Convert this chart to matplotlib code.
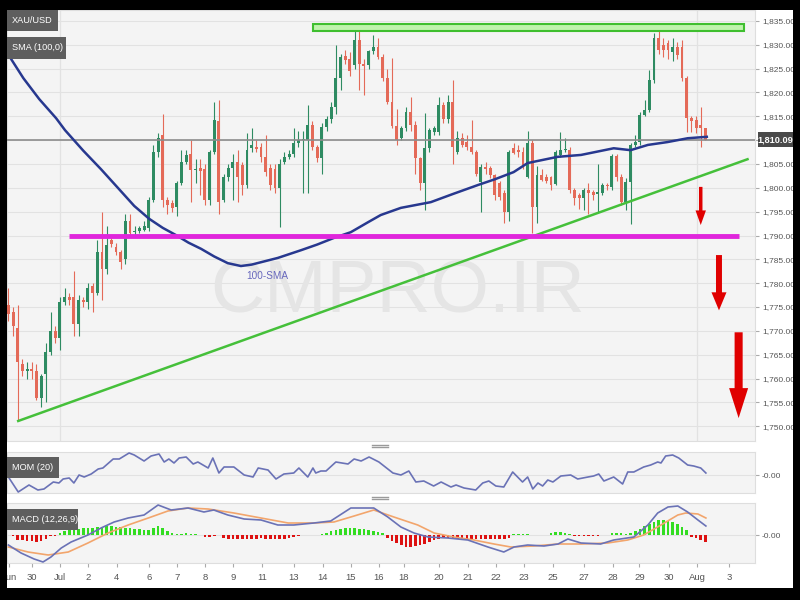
import numpy as np
import matplotlib
matplotlib.use('Agg')
import matplotlib.pyplot as plt
from matplotlib.patches import Rectangle, FancyArrowPatch, ArrowStyle
from matplotlib.lines import Line2D
from matplotlib import font_manager

# ---------------- data ----------------
opens = [1775.5, 1774, 1770.5, 1763, 1761.5, 1762, 1761.5, 1756, 1761, 1765.5,
         1770, 1768.5, 1776, 1777, 1777, 1771.5, 1776.5, 1776, 1779.5, 1778,
         1786.5, 1783, 1789, 1787.5, 1786.5, 1785, 1793, 1790.8, 1791, 1791.2,
         1791.5, 1797.5, 1807.5, 1811, 1797.5, 1796.8, 1796, 1801, 1805.5, 1807,
         1803.7, 1804.2, 1804, 1797.5, 1807.5, 1814, 1797.5, 1802.3, 1804.1, 1805.4,
         1804.8, 1800.6, 1808.4, 1808.5, 1808.5, 1806.4, 1804.1, 1804, 1800, 1805.5,
         1806.5, 1807.2, 1809.5, 1810, 1810, 1813.2, 1808.5, 1806.2, 1812.8, 1814.5,
         1817, 1823, 1827.6, 1827, 1825.8, 1831, 1826, 1825.8, 1828.6, 1829.6,
         1827.5, 1823, 1818, 1813, 1810.4, 1812.5, 1816, 1813.2, 1806.2, 1801,
         1808.3, 1811.7, 1811.7, 1817.4, 1814.5, 1818, 1807.6, 1810.4, 1809.7, 1808.6,
         1807.6, 1801.3, 1804.3, 1804.2, 1802.7, 1801, 1799, 1795, 1808.3, 1808,
         1807.6, 1802.3, 1809.3, 1796, 1802.7, 1802.3, 1802.3, 1800.9, 1806.9, 1808,
         1808, 1799.5, 1798.5, 1797.8, 1799.5, 1799.2, 1798.8, 1798.9, 1800.6, 1800.2,
         1806.6, 1802.3, 1797.1, 1801.3, 1809, 1809.7, 1815.3, 1816.3, 1822.6, 1831.4,
         1829.9, 1830.3, 1828.5, 1829.6, 1829.6, 1823, 1814.6, 1814.2, 1813.2, 1812.5]
closes = [1773.5, 1771, 1763.5, 1761.5, 1762, 1761.5, 1756, 1760.5, 1765.5, 1770,
          1768.5, 1776, 1777, 1776.5, 1771.5, 1776.5, 1776, 1779, 1778, 1786.5,
          1783, 1788, 1788.3, 1786.5, 1784.5, 1793, 1790.5, 1791, 1791.5, 1792,
          1797.5, 1807.5, 1810.5, 1797.5, 1796.5, 1795.8, 1801, 1805.5, 1806.8, 1803.7,
          1803.9, 1803.5, 1797.5, 1807.5, 1814.2, 1797, 1802.3, 1804.1, 1805.4, 1802.3,
          1800.6, 1807.9, 1809, 1808.2, 1806.4, 1803.3, 1800.5, 1800, 1805, 1806.5,
          1807.2, 1809.3, 1810, 1810.2, 1813.2, 1808.5, 1806.2, 1812.8, 1814.5, 1817,
          1823, 1827.5, 1826.8, 1824.5, 1831, 1826, 1825.5, 1828.6, 1829.6, 1827.5,
          1823, 1818, 1813, 1810, 1812.5, 1816, 1813.2, 1806.2, 1801, 1808.3,
          1812.1, 1812.5, 1817.4, 1814.5, 1818, 1808.5, 1810.4, 1809, 1808.6, 1807.6,
          1803, 1804.4, 1804, 1802.7, 1798.5, 1798.1, 1795, 1807.6, 1807.4, 1807.5,
          1804.8, 1809.4, 1796, 1802.7, 1801.7, 1801.5, 1800.6, 1807.6, 1808, 1808.2,
          1799.5, 1797.8, 1797.8, 1799.5, 1799, 1798.5, 1799, 1800.6, 1800.3, 1806.6,
          1802.3, 1797.1, 1801.3, 1809, 1809.7, 1815.3, 1816.3, 1822.6, 1831.4, 1828.9,
          1829, 1828.9, 1829.5, 1827.9, 1823, 1814.6, 1814, 1812.5, 1812.5, 1810.1]
highs = [1779, 1775, 1775.5, 1764, 1763.5, 1763.5, 1763, 1761, 1767.5, 1774,
         1771, 1777, 1779, 1778, 1782.5, 1777.5, 1777, 1780, 1780, 1789,
         1795, 1792, 1790, 1788.5, 1787, 1794.5, 1794.5, 1792, 1792, 1793,
         1798, 1809, 1811.5, 1815.5, 1798, 1797.5, 1801.5, 1808, 1808, 1810,
         1806, 1806, 1805, 1808, 1818, 1818.4, 1803, 1805, 1807, 1808,
         1805.5, 1811.5, 1812.6, 1810, 1809.5, 1811, 1805, 1805, 1806, 1807.5,
         1808, 1812.5, 1812, 1812, 1817.4, 1814, 1809, 1813.5, 1815, 1818,
         1830, 1828, 1829, 1828.5, 1834.2, 1833, 1827, 1829, 1832, 1831.5,
         1828, 1825, 1827.2, 1816.5, 1813, 1817, 1819, 1814, 1806.5, 1815.7,
         1812.5, 1813, 1819, 1818, 1819.5, 1822.6, 1812, 1811.5, 1811, 1814.2,
         1808, 1805, 1805.5, 1804.5, 1803, 1801.5, 1799.5, 1808, 1809.5, 1809,
         1808.5, 1812, 1810, 1804.5, 1804, 1803, 1802.5, 1808, 1811.8, 1810.5,
         1808.5, 1800, 1799, 1800, 1801, 1799.5, 1805, 1801, 1801, 1807,
         1807, 1803, 1802, 1809.5, 1811, 1816, 1818.5, 1824.7, 1832.4, 1832.8,
         1831.5, 1831, 1831.5, 1830.5, 1831, 1823.5, 1815, 1815, 1817, 1812.5]
lows = [1772, 1769, 1751.3, 1760.5, 1760, 1760, 1755.5, 1754, 1755, 1765,
        1767.5, 1766, 1775.5, 1775.5, 1769, 1769, 1775, 1774.5, 1774, 1777.5,
        1776.5, 1782, 1787.5, 1786, 1783, 1784, 1790, 1790, 1790.5, 1791,
        1791, 1797, 1806.5, 1796, 1794.5, 1795, 1794, 1800.5, 1805, 1797,
        1801, 1798.5, 1796.5, 1796.5, 1807, 1794.5, 1797, 1801.5, 1797.5, 1797,
        1798.5, 1800, 1807.5, 1807.5, 1805.5, 1802.5, 1799.5, 1799, 1791.8, 1805,
        1806, 1806.5, 1808.5, 1798.9, 1799, 1808, 1805.5, 1803, 1812, 1813.5,
        1815.5, 1820.5, 1826, 1823.5, 1825, 1820.5, 1819.5, 1825, 1828, 1827,
        1822.5, 1817.5, 1812.5, 1809, 1810, 1812, 1812, 1803, 1799.5, 1795.3,
        1807.5, 1811, 1811, 1813.5, 1813.5, 1805, 1807, 1808.5, 1808, 1807,
        1802.5, 1795, 1803, 1802, 1797.5, 1797.5, 1792.6, 1793, 1807, 1806.5,
        1804, 1802, 1790.5, 1792.6, 1801.5, 1801, 1799.5, 1800.5, 1806.5, 1807.5,
        1799, 1796.5, 1795.5, 1795.3, 1794.5, 1797.5, 1795, 1798.5, 1799.5, 1799.5,
        1801.5, 1796.5, 1795.3, 1792.5, 1808.5, 1809, 1815, 1816, 1822, 1828,
        1827.5, 1827, 1826.5, 1827, 1822.5, 1811.8, 1811.8, 1811.5, 1808.6, 1810]

sma_idx = [0, 3.2, 6.6, 10.2, 12.1, 16.0, 19.8, 23.4, 26.9, 30.1, 33.0, 35.8, 38.5, 41.2,
           44.0, 46.9, 49.7, 52.0, 54.0, 57.6, 62.5, 66.0, 69.6, 73.2, 76.9, 79.6, 83.9,
           90.3, 95.0, 100.4, 104.0, 108.0, 111.0, 117.4, 122.4, 129.4, 133.0, 136.7,
           140.9, 145.2, 149.3]
sma_val = [1827.9, 1823.0, 1818.6, 1814.6, 1812.1, 1807.8, 1803.9, 1800.0, 1796.2, 1793.5,
           1791.6, 1790.1, 1788.5, 1787.2, 1785.6, 1784.2, 1783.6, 1783.9, 1784.4, 1785.3,
           1786.9, 1788.1, 1789.5, 1790.7, 1792.8, 1794.3, 1795.8, 1797.0, 1798.7, 1800.6,
           1801.8, 1803.3, 1805.2, 1806.5, 1806.9, 1808.3, 1807.9, 1809.0, 1809.6, 1810.4,
           1810.7]

mom_idx = [0, 2.1, 4.4, 6.3, 7.6, 9.6, 10.8, 11.7, 13.0, 14.0, 15.1, 16.2, 17.7, 19.2, 20.2,
           22.4, 23.7, 25.8, 26.9, 29.0, 30.5, 32.2, 33.3, 34.3, 35.4, 36.5, 38.0, 39.5, 40.5,
           42.7, 43.7, 45.0, 46.1, 48.2, 50.4, 52.3, 53.4, 55.5, 57.2, 58.9, 61.0, 62.1, 64.0,
           65.1, 65.7, 66.8, 67.9, 70.0, 72.6, 73.9, 75.4, 77.1, 79.2, 82.2, 83.9, 85.6, 87.1,
           88.8, 90.9, 92.5, 94.6, 95.7, 97.4, 99.9, 101.4, 102.7, 104.2, 105.9, 107.8, 109.9,
           111.0, 112.1, 113.2, 114.2, 115.3, 116.4, 118.1, 120.2, 121.7, 123.9, 125.1, 126.2,
           127.3, 129.4, 131.3, 132.4, 133.7, 135.8, 137.3, 138.8, 139.5, 140.5, 142.0, 143.3,
           145.2, 146.5, 148.0, 149.1]
mom_val = [-2, -17, -10, -15, -14, -7, -8, -4, -3, -8, 0, -2, 1, 6, 7, 16, 16, 22, 20, 14,
           19, 21, 13, 16, 12, 17, 18, 11, 13, 7, 17, 2, 8, 8, 0, -2, 7, 5, -4, 1, 2, 7, -2, 7,
           2, 4, 4, 13, 11, 16, 14, 18, 13, 2, 0, 4, -7, -6, -11, -7, -12, -10, -13, -15, -8,
           -6, -11, -12, 3, -7, -2, -14, -8, -11, -5, -7, -1, 0, -4, -2, -1, 1, -6, -2, -9, 3,
           3, 8, 10, 13, 12, 19, 20, 17, 10, 9, 7, 2]

macd_idx = [0, 2.7, 5.5, 7.4, 9.1, 11.3, 13.4, 17.0, 19.8, 22.6, 25.6, 29.0, 32.0, 34.8,
            38.4, 41.8, 43.9, 46.9, 50.4, 54.0, 57.6, 61.0, 65.3, 68.9, 73.2, 78.1, 81.1,
            83.9, 86.7, 89.7, 93.9, 98.2, 102.5, 105.9, 108.1, 111.0, 114.5, 117.5, 119.6,
            122.4, 126.6, 129.4, 133.7, 136.7, 138.8, 141.0, 143.1, 145.2, 147.4, 149.1]
macd_val = [-10, -18, -24, -27, -22, -13, -7, 0, 7, 13, 17, 20, 30, 25, 27, 23, 25, 20, 16,
            15, 10, 10, 12, 14, 27, 27, 18, 8, 2, -2, -3, -5, -12, -17, -12, -10, -11, -9,
            -4, -8, -9, -5, -2, 10, 22, 28, 29, 23, 15, 9]
signal_idx = [0, 4.2, 8.5, 12.8, 17.0, 21.3, 25.6, 29.9, 34.1, 38.4, 42.7, 48.2, 54.0, 59.8,
              65.3, 69.6, 73.9, 78.1, 82.4, 87.5, 91.0, 95.2, 99.5, 103.8, 107.4, 112.3,
              117.5, 122.4, 128.1, 132.4, 135.8, 139.5, 143.1, 144.8, 147.4, 149.1]
signal_val = [-12, -17, -20, -17, -8, 2, 10, 17, 24, 27, 26, 22, 17, 12, 12, 13, 19, 25, 18,
              10, 2, -2, -5, -9, -12, -11, -9, -9, -8, -5, 0, 10, 20, 22, 21, 17]
hist_val = [0, -1, -5, -5, -6, -6, -7, -6, -4, -1, -0.5,
            2, 4, 5, 6, 6, 7, 7, 7, 8, 8, 9, 9, 8, 8, 7, 7, 6, 6, 5, 5, 7, 9, 7, 4, 2, 1, 1.5,
            2, 1.5, 1, 0.3, -1.5, -1.5, -1, -0.3,
            -3, -3.5, -3.5, -3.5, -4, -4, -3.5, -3.5, -3, -3.5, -4, -4, -4, -3.5, -3, -2,
            -0.5, 0.3, 0.5, -0.3, 0.3, 1, 2, 4, 5, 6, 7, 7, 7, 6, 6, 5, 4, 3, 2,
            -3, -6, -8, -10, -12, -12, -11, -10, -9, -7, -5, -3.5,
            -3, -3, -3.5, -3.5, -3.5, -3.5, -3.5, -3.5, -3.5, -3.5, -3.5, -3.5, -3.5, -3.5, -3,
            1, 1.5, 1.5, 1,
            0.3, 0.3, 0.3, 0.5,
            2, 3, 3.5, 2.5,
            1, -0.5, -1, -1, -1, -1, -0.5,
            0.3, 0.5, 2, 2, 2, 1,
            2, 4, 6, 9, 11, 13, 15, 15, 14, 13, 11, 8, 5,
            -2, -3, -5, -7]

tick_pos = [0.15, 5.06, 11.05, 17.03, 23.2, 30.06, 36.05, 42.03, 48.0, 54.2, 61.0, 67.2,
            73.2, 79.2, 84.5, 92.0, 98.2, 104.2, 110.2, 116.4, 123.0, 129.2, 134.9, 141.2,
            147.2, 154.0]
tick_labels = ['Jun', '30', 'Jul', '2', '4', '6', '7', '8', '9', '11', '13', '14', '15',
               '16', '18', '20', '21', '22', '23', '25', '27', '28', '29', '30', 'Aug', '3']
month_starts = [11.05, 147.2]

price_ticks = list(range(1750, 1840, 5))
last_price = 1810.09
zone_idx = (65.1, 157.2)
zone_price = (1832.8, 1834.3)
support_idx = (13.0, 156.1)
support_level = 1790
trend_idx = [2.1, 158.0]
trend_val = [1751.1, 1806.0]
arrow_idx = [148.0, 151.9, 156.1]
arrow_top = [1800.2, 1785.9, 1769.7]
arrow_bottom = [1792.2, 1774.3, 1751.7]
sma_label_pos = (55.3, 1781.5)

# ---------------- fonts ----------------
_names = {f.name for f in font_manager.fontManager.ttflist}
if 'Liberation Sans Narrow' in _names:
    FONT = 'Liberation Sans Narrow'
    FS_Y, FS_X, FS_BOX, FS_WM, FS_SMA = 7, 8, 7.5, 66, 8.5
else:
    FONT = 'Liberation Sans'
    FS_Y, FS_X, FS_BOX, FS_WM, FS_SMA = 6.0, 6.8, 6.6, 54, 7.2
plt.rcParams['font.family'] = [FONT, 'DejaVu Sans']

# ---------------- figure ----------------
W, H = 800, 600
fig = plt.figure(figsize=(8, 6), dpi=100)
fig.patch.set_facecolor('white')


def fx(px):
    return px / W


def fy(py):
    return 1 - py / H


L, R = 7, 755
ax = fig.add_axes([fx(L), fy(441), fx(R) - fx(L), fy(10) - fy(441)])
ax_mom = fig.add_axes([fx(L), fy(493), fx(R) - fx(L), fy(452) - fy(493)])
ax_macd = fig.add_axes([fx(L), fy(563), fx(R) - fx(L), fy(503) - fy(563)])

BG = '#f4f4f4'
GRID = '#e2e2e2'
XL = (-0.3, 159.6)
for a in (ax, ax_mom, ax_macd):
    a.set_facecolor(BG)
    a.set_xlim(*XL)
    a.set_axisbelow(True)
    for s in a.spines.values():
        s.set_color('#dedede')
        s.set_linewidth(0.8)
    a.yaxis.tick_right()
    a.tick_params(axis='y', length=3, color='#aaaaaa', pad=2, labelsize=FS_Y,
                  labelcolor='#555555')
    a.grid(axis='y', color=GRID, lw=0.8)

# ---- main price panel ----
ax.set_ylim(1746.9, 1837.3)
ax.set_yticks(price_ticks)
# the 1,810.00 label is hidden behind the last-price box in the reference
ax.set_yticklabels(['' if v == 1810 else f'{v:,.2f}' for v in price_ticks])
ax.set_xticks([])
for m in month_starts:
    ax.axvline(m, color=GRID, lw=0.9, zorder=0.5)

ax.text((398 - L) / (R - L), (441 - 292) / 431, 'CMPRO.IR', transform=ax.transAxes,
        ha='center', va='center', fontsize=FS_WM, color='#e5e5e5', zorder=0.6)

o = np.array(opens); c = np.array(closes); h = np.array(highs); lo = np.array(lows)
xi = np.arange(len(o))
up = c >= o
GREEN = '#2e8b62'
RED = '#e46a58'
cols = np.where(up, GREEN, RED)
ax.vlines(xi, lo, h, colors=cols, lw=0.8, zorder=3)
body_h = np.maximum(np.abs(c - o), 0.25)
ax.bar(xi, body_h, bottom=np.minimum(o, c), width=0.62, color=cols, zorder=3.5)

ax.axhline(last_price, color='#8c8c8c', lw=1.2, zorder=4)
ax.plot(sma_idx, sma_val, color='#27388f', lw=1.8, zorder=5)
ax.text(*sma_label_pos, '100-SMA', color='#6868bd', fontsize=FS_SMA, ha='center',
        va='center', zorder=5)
ax.plot(trend_idx, trend_val, color='#45c03a', lw=1.8, zorder=5)
ax.plot(support_idx, [support_level] * 2, color='#e026dc', lw=3.5,
        solid_capstyle='butt', zorder=5)
ax.add_patch(Rectangle((zone_idx[0], zone_price[0]), zone_idx[1] - zone_idx[0],
                       zone_price[1] - zone_price[0], fc='#bff3ad', ec='#3fbf2f',
                       lw=1.5, zorder=5))

arrow_styles = [(2.5, 7.5, 10.5), (4.3, 10.8, 13.0), (5.8, 13.7, 21.6)]
for xa, yt, yb, (tw, hw, hl) in zip(arrow_idx, arrow_top, arrow_bottom, arrow_styles):
    st = ArrowStyle.Simple(head_length=hl, head_width=hw, tail_width=tw)
    ax.add_patch(FancyArrowPatch((xa, yt), (xa, yb), arrowstyle=st, mutation_scale=1,
                                 shrinkA=0, shrinkB=0, color='#e00000', lw=0, zorder=6))

# ---- MOM panel ----
ax_mom.set_ylim(-18, 23)
ax_mom.set_yticks([0])
ax_mom.set_yticklabels(['-0.00'])
ax_mom.set_xticks([])
ax_mom.plot(mom_idx, mom_val, color='#6a72b6', lw=1.2, zorder=3)

# ---- MACD panel ----
ax_macd.set_ylim(-28, 32)
ax_macd.set_yticks([0])
ax_macd.set_yticklabels(['-0.00'])
hv = np.array(hist_val)
ax_macd.bar(np.arange(len(hv)), hv, width=0.55,
            color=np.where(hv >= 0, '#33dd22', '#dd1111'), zorder=3)
ax_macd.plot(signal_idx, signal_val, color='#f2a56c', lw=1.2, zorder=4)
ax_macd.plot(macd_idx, macd_val, color='#6a72b6', lw=1.2, zorder=4)
ax_macd.set_xticks(tick_pos)
ax_macd.set_xticklabels(tick_labels)
ax_macd.tick_params(axis='x', length=3, color='#aaaaaa', pad=4, labelsize=FS_X,
                    labelcolor='#555555')

# ---- label boxes ----
def label_box(x0, y0, x1, y1, text, fc='#5e5e5e', ha='left', weight='normal'):
    fig.add_artist(Rectangle((fx(x0), fy(y1)), fx(x1) - fx(x0), fy(y0) - fy(y1),
                             transform=fig.transFigure, fc=fc, ec='none', zorder=8))
    if ha == 'left':
        tx = fx(x0 + 5)
    else:
        tx = fx((x0 + x1) / 2)
    fig.text(tx, fy((y0 + y1) / 2), text, color='white', fontsize=FS_BOX, ha=ha,
             va='center', weight=weight, zorder=9)


label_box(7, 10, 58, 31, 'XAU/USD')
label_box(7, 37, 66, 59, 'SMA (100,0)')
label_box(7, 457, 59, 478, 'MOM (20)')
label_box(7, 509, 78, 530, 'MACD (12,26,9)')
label_box(758, 132, 793, 147, f'{last_price:,.2f}', fc='#4a4a4a', ha='center',
          weight='bold')

# panel grips
for yy in (446, 498):
    for dy in (-1.2, 1.2):
        fig.add_artist(Line2D([fx(372), fx(388)], [fy(yy + dy), fy(yy + dy)],
                              transform=fig.transFigure, color='#9a9a9a', lw=1.0,
                              zorder=8))

# black frame
for (x0, y0, x1, y1) in [(0, 0, 800, 10), (0, 588, 800, 600), (0, 0, 7, 600),
                         (793, 0, 800, 600)]:
    fig.add_artist(Rectangle((fx(x0), fy(y1)), fx(x1) - fx(x0), fy(y0) - fy(y1),
                             transform=fig.transFigure, fc='black', ec='none',
                             zorder=20))

fig.savefig('out.png', dpi=100, facecolor=fig.get_facecolor())
